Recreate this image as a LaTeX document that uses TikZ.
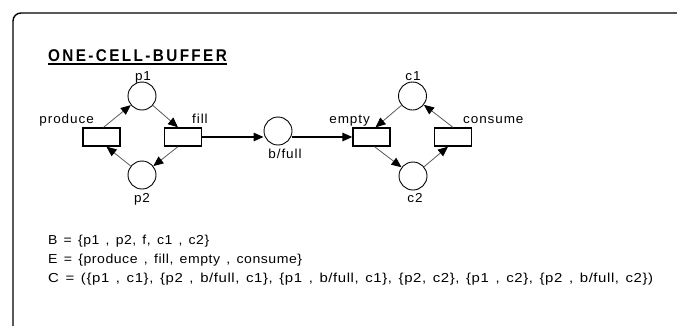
\documentclass[tikz,border=0pt]{standalone}
\usepackage{graphicx}
\usepackage{fontspec}
\setmainfont{Liberation Sans}
\newfontfamily\titlefont[LetterSpace=14,FakeStretch=0.9]{Liberation Sans}
\newfontfamily\lblfont[LetterSpace=7,FakeStretch=1.04]{Liberation Sans}
\newfontfamily\setfont[LetterSpace=4,FakeStretch=1.04]{Liberation Sans}
\newcommand\widespaces{\spaceskip=6pt\relax}
\usetikzlibrary{arrows.meta}
\tikzset{
  place/.style={circle, draw, line width=0.9pt, minimum size=28pt, inner sep=0pt},
  trans/.style={rectangle, draw, line width=1.3pt, minimum width=37pt, minimum height=18pt, inner sep=0pt},
  arc/.style={-{Triangle[length=10pt,width=8.5pt,color=black]}, line width=0.8pt, draw=black!65},
  hflow/.style={-{Triangle[length=10pt,width=8.5pt]}, line width=1.3pt},
  lbl/.style={font=\lblfont\fontsize{13}{15}\selectfont, inner sep=0pt},
  setline/.style={font=\setfont\fontsize{13}{15}\selectfont\widespaces, inner sep=0pt, anchor=base west},
  frame/.style={draw, line width=1.4pt, rounded corners=8pt}
}
\begin{document}
\begin{tikzpicture}[x=1pt,y=-1pt]
\useasboundingbox (0,0) rectangle (677,325);
\clip (0,0) rectangle (677,325);
\draw[frame] (13,13) rectangle (700,345);
% title
\node[inner sep=0pt, anchor=base west, font=\titlefont\bfseries\fontsize{17}{19}\selectfont] (title) at (48,61) {ONE-CELL-BUFFER};
\draw[line width=2pt] ([yshift=-2.5pt]title.south west) -- ([yshift=-2.5pt]title.south east);
% places and transitions
\node[place] (p1) at (142,96) {};
\node[place] (p2) at (142,175) {};
\node[trans] (produce) at (101.5,137) {};
\node[trans] (fill) at (183,137) {};
\node[place] (bfull) at (278,131) {};
\node[trans] (empty) at (371.5,137) {};
\node[trans] (consume) at (453,137) {};
\node[place] (c1) at (412.5,96) {};
\node[place] (c2) at (413,176) {};
% labels
\node[lbl, anchor=base] (lp1) at (143,80) {p1};
\node[lbl, anchor=base] (lp2) at (142,202) {p2};
\node[lbl, anchor=base east] (lproduce) at (94,123) {produce};
\node[lbl, anchor=base west] (lfill) at (192,123) {fill};
\node[lbl, anchor=base] (lbfull) at (285,158) {b/full};
\node[lbl, anchor=base east] (lempty) at (370,123) {empty};
\node[lbl, anchor=base west] (lconsume) at (463,123) {consume};
\node[lbl, anchor=base] (lc1) at (413,80) {c1};
\node[lbl, anchor=base] (lc2) at (415,202) {c2};
% arcs
\draw[arc] ([xshift=2pt]produce.north) -- (p1);
\draw[arc] (p1) -- ([xshift=-5pt]fill.north);
\draw[arc] ([xshift=-5pt]fill.south) -- (p2);
\draw[arc] (p2) -- ([xshift=5pt]produce.south);
\draw[hflow] (fill.east) -- (fill.east -| bfull.west);
\draw[hflow] (empty.west -| bfull.east) -- (empty.west);
\draw[arc] (c1) -- ([xshift=4pt]empty.north);
\draw[arc] ([xshift=3pt]empty.south) -- (c2);
\draw[arc] (c2) -- ([xshift=-5pt]consume.south);
\draw[arc] (consume.north) -- (c1);
% sets
\node[setline] (setB) at (48,244) {\resizebox{161pt}{\height}{B = \{p1 , p2, f, c1 , c2\}}};
\node[setline] (setE) at (48,263) {\resizebox{254pt}{\height}{E = \{produce , fill, empty , consume\}}};
\node[setline] (setC) at (48,282) {\resizebox{605pt}{\height}{C = (\{p1 , c1\}, \{p2 , b/full, c1\}, \{p1 , b/full, c1\}, \{p2, c2\}, \{p1 , c2\}, \{p2 , b/full, c2\})}};
\end{tikzpicture}
\end{document}
